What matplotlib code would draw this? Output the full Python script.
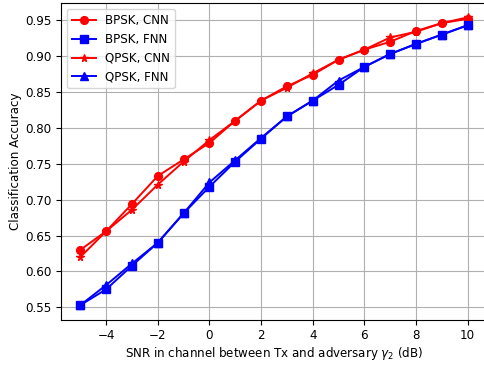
import matplotlib
matplotlib.use("Agg")
import matplotlib.pyplot as plt

snr = [-5, -4, -3, -2, -1, 0, 1, 2, 3, 4, 5, 6, 7, 8, 9, 10]

bpsk_cnn = [0.630, 0.656, 0.694, 0.733, 0.756, 0.779, 0.810, 0.838, 0.858, 0.874,
            0.895, 0.909, 0.920, 0.935, 0.946, 0.952]
bpsk_fnn = [0.553, 0.575, 0.608, 0.640, 0.681, 0.718, 0.753, 0.785, 0.816, 0.838,
            0.860, 0.885, 0.903, 0.917, 0.930, 0.943]
qpsk_cnn = [0.620, 0.656, 0.686, 0.721, 0.753, 0.783, 0.810, 0.838, 0.856, 0.876,
            0.895, 0.909, 0.926, 0.934, 0.946, 0.954]
qpsk_fnn = [0.553, 0.581, 0.611, 0.640, 0.681, 0.724, 0.755, 0.786, 0.816, 0.838,
            0.866, 0.885, 0.903, 0.917, 0.930, 0.943]

plt.rcParams['font.size'] = 8.6
plt.rcParams['lines.markersize'] = 5.6
plt.rcParams['lines.linewidth'] = 1.4

fig = plt.figure(figsize=(4.84, 3.65), dpi=100)
ax = fig.add_axes([61 / 484, 45.5 / 365, 426 / 484, 316.5 / 365])

ax.plot(snr, bpsk_cnn, 'r-o', label='BPSK, CNN')
ax.plot(snr, bpsk_fnn, 'b-s', label='BPSK, FNN')
ax.plot(snr, qpsk_cnn, 'r-*', label='QPSK, CNN')
ax.plot(snr, qpsk_fnn, 'b-^', label='QPSK, FNN')

ax.set_xticks([-4, -2, 0, 2, 4, 6, 8, 10])
ax.set_yticks([0.55, 0.60, 0.65, 0.70, 0.75, 0.80, 0.85, 0.90, 0.95])
ax.grid(True)
ax.set_xlabel(r'SNR in channel between Tx and adversary $\gamma_2$ (dB)', labelpad=2)
ax.set_ylabel('Classification Accuracy', labelpad=2)
ax.legend(loc='upper left')

fig.savefig('out.png', dpi=100)
